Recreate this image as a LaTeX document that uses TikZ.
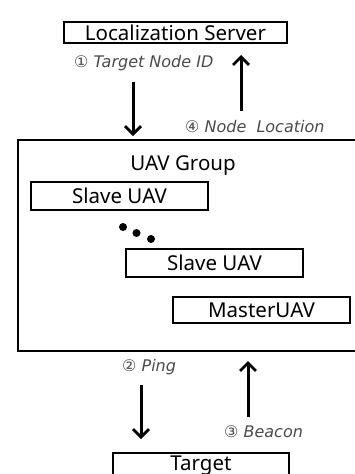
\documentclass[tikz,border=0pt]{standalone}
\usepackage{fontspec}
\setmainfont{Noto Sans}
\newfontfamily\labfont{DejaVu Sans}
\usetikzlibrary{arrows.meta}
\definecolor{lbl}{HTML}{4A4A4A}
\tikzset{
  box/.style={draw=black, line width=1.6pt, inner sep=0pt, font=\fontsize{20.5}{24}\selectfont},
  flow/.style={line width=3pt, -{Straight Barb[length=8pt,width=16pt,line width=2.8pt]}},
  lab/.style={text=lbl, font=\labfont\fontsize{16}{19}\selectfont\itshape, inner sep=0pt, anchor=west},
  dot/.style={circle, fill=black, inner sep=0pt, minimum size=8pt}
}
\begin{document}
\begin{tikzpicture}[x=1pt,y=-1pt]
\useasboundingbox (0,0) rectangle (355,474);
\clip (0,0) rectangle (355,474);
% boxes
\node[box, minimum width=223pt, minimum height=21pt] (server) at (175.5,32.5) {Localization Server};
\node[draw=black, line width=1.8pt, inner sep=0pt, minimum width=344pt, minimum height=211pt] (group) at (190,245.5) {};
\node[font=\fontsize{20.5}{24}\selectfont, inner sep=0pt] (gtitle) at (183,166) {UAV Group};
\node[box, line width=1.4pt, minimum width=177pt, minimum height=28pt] (s1) at (119.5,196) {Slave UAV};
\node[box, line width=1.4pt, minimum width=177pt, minimum height=28pt] (s2) at (214.5,263) {Slave UAV};
\node[box, line width=1.4pt, minimum width=177pt, minimum height=26pt] (m) at (261.5,310) {MasterUAV};
\node[box, line width=1.6pt, minimum width=176pt, minimum height=30pt] (target) at (201,468) {};
\node[font=\fontsize{20.5}{24}\selectfont, inner sep=0pt] (ttext) at (201,466) {Target};
% dots
\node[dot] (d1) at (123,227) {};
\node[dot] (d2) at (136.5,233) {};
\node[dot] (d3) at (151,239) {};
% arrow endpoints
\coordinate (a1s) at (133,82);
\coordinate (a1e) at (133,136);
\coordinate (a4s) at (241,111);
\coordinate (a4e) at (241,55);
\coordinate (a2s) at (141,385);
\coordinate (a2e) at (141,439);
\coordinate (a3s) at (248,417);
\coordinate (a3e) at (248,361);
\draw[flow] (a1s) -- (a1e);
\draw[flow] (a4s) -- (a4e);
\draw[flow] (a2s) -- (a2e);
\draw[flow] (a3s) -- (a3e);
% labels
\node[lab] (l1) at (74,63) {① Target Node ID};
\node[lab] (l4) at (185,127) {④ Node~~Location};
\node[lab] (l2) at (122,367) {② Ping};
\node[lab] (l3) at (224,432) {③ Beacon};
\end{tikzpicture}
\end{document}
